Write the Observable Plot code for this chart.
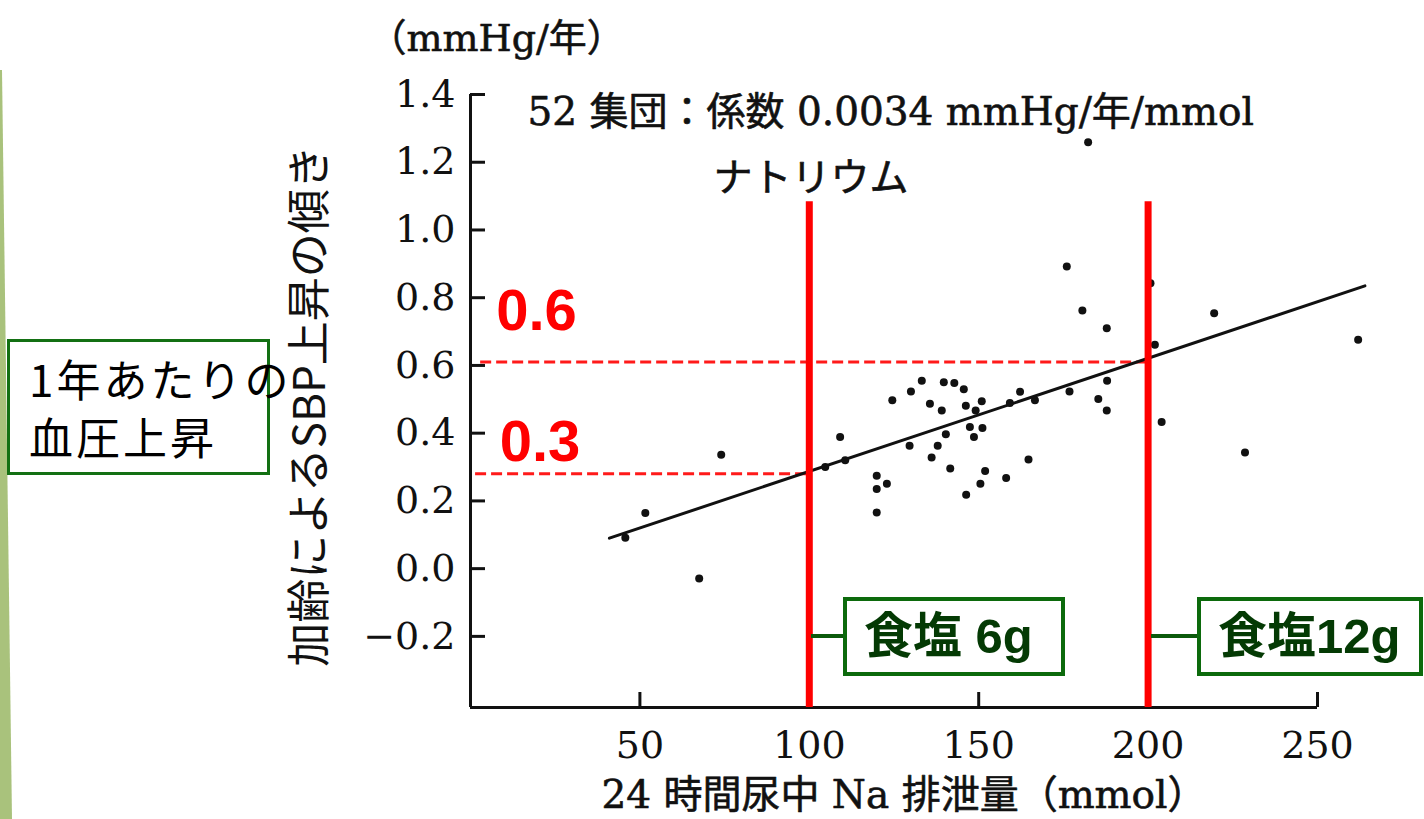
<!DOCTYPE html>
<html><head><meta charset="utf-8">
<script src="https://cdn.jsdelivr.net/npm/d3@7"></script>
<script src="https://cdn.jsdelivr.net/npm/@observablehq/plot@0.6"></script>
<style>
html,body{margin:0;padding:0;background:#fff;}
#wrap{position:relative;width:1424px;height:819px;overflow:hidden;background:#fff;}
#chart{position:absolute;left:0;top:0;}
.bar{position:absolute;left:0;top:0;width:14px;height:819px;background:#a9c27c;clip-path:polygon(0 70px,2px 70px,12px 819px,0 819px);}
.box{position:absolute;box-sizing:border-box;background:#fff;white-space:nowrap;}
.salt{border:4px solid #0c6a0c;color:#043a04;font-family:"Liberation Sans","Noto Sans CJK JP",sans-serif;font-weight:bold;font-size:49px;line-height:71px;padding-left:17px;}
.conn{position:absolute;height:4px;background:#0c5a0c;}
.note{border:3px solid #137013;color:#000;font-family:"Noto Sans CJK JP",sans-serif;font-size:44px;line-height:58px;padding:7px 0 0 19px;letter-spacing:3px;background:transparent;}
</style></head>
<body>
<div id="wrap">
  <div class="bar"></div>
  <div id="chart"></div>
  <div class="conn" style="left:811px;top:634px;width:34px;"></div>
  <div class="conn" style="left:1151px;top:634px;width:48px;"></div>
  <div class="box salt" style="left:843px;top:597px;width:222px;height:79px;">食塩 6g</div>
  <div class="box salt" style="left:1197px;top:597px;width:226px;height:79px;">食塩12g</div>
  <div class="box note" style="left:7px;top:339px;width:263px;height:136px;">1年あたりの<br>血圧上昇</div>
</div>
<script>
// ---- data ----
const naExcretion = [45.7, 51.6, 67.5, 74.0, 104.7, 109.1, 110.6, 119.9, 119.9, 122.9, 119.9, 124.5, 129.6, 130.0, 133.2, 135.6, 136.1, 137.9, 139.1, 139.7, 140.3, 141.6, 142.8, 145.6, 146.2, 146.3, 147.4, 148.6, 149.1, 150.9, 151.1, 150.5, 151.9, 158.1, 159.2, 162.2, 164.7, 166.6, 176.8, 185.3, 187.9, 187.8, 204.0, 228.6, 176.0, 180.6, 187.8, 200.7, 202.0, 219.5, 182.3, 262.0];
const sbpSlope = [0.091, 0.164, -0.029, 0.336, 0.300, 0.389, 0.320, 0.274, 0.235, 0.251, 0.166, 0.497, 0.363, 0.523, 0.555, 0.487, 0.328, 0.363, 0.467, 0.550, 0.397, 0.296, 0.548, 0.530, 0.481, 0.218, 0.418, 0.389, 0.467, 0.494, 0.415, 0.251, 0.288, 0.268, 0.489, 0.522, 0.322, 0.497, 0.523, 0.501, 0.555, 0.467, 0.433, 0.343, 0.892, 0.762, 0.710, 0.843, 0.661, 0.754, 1.259, 0.676];
const fitX = [41, 264];
const fitY = [0.09, 0.835];
const saltLines = [100, 200];
const saltLineTop = 1.083;
const readLevels = [0.28, 0.61];
const readStartX = [1.5, 3];
const readLabels = ["0.3", "0.6"];
const readLabelX = [8.6, 7.6];
const readLabelY = [0.372, 0.758];
const xTicks = [50, 100, 150, 200, 250];
const yTicks = [-0.2, 0, 0.2, 0.4, 0.6, 0.8, 1.0, 1.2, 1.4];
const xDomain = [0, 250];
const yDomain = [-0.41, 1.4];
const xTitle = "24 時間尿中 Na 排泄量（mmol）";
const yTitle = "加齢によるSBP上昇の傾き";
const unitLabel = "（mmHg/年）";
const noteLines = ["52 集団：係数 0.0034 mmHg/年/mmol", "ナトリウム"];

const points = naExcretion.map((x, i) => ({x, y: sbpSlope[i]}));
const fit = fitX.map((x, i) => ({x, y: fitY[i]}));
const reads = readLevels.map((y, i) => ({y, x1: readStartX[i], x2: saltLines[i], label: readLabels[i], lx: readLabelX[i], ly: readLabelY[i]}));

const serif = '"DejaVu Serif","Noto Sans CJK JP",serif';
const sans = '"Noto Sans CJK JP",sans-serif';
const ink = "#111";
const thick = {stroke: ink, strokeWidth: 0.6};

const chart = Plot.plot({
  width: 1424, height: 819,
  marginLeft: 470, marginRight: 107, marginTop: 94, marginBottom: 112,
  x: {domain: xDomain},
  y: {domain: yDomain},
  style: {background: "transparent", fontFamily: serif, color: ink, overflow: "visible"},
  marks: [
    Plot.ruleY(reads, {y: "y", x1: "x1", x2: "x2", stroke: "#ff1a1a", strokeWidth: 3, strokeDasharray: "11,5"}),
    Plot.line(fit, {x: "x", y: "y", stroke: ink, strokeWidth: 3}),
    Plot.dot(points, {x: "x", y: "y", r: 4, fill: ink, stroke: "none"}),
    Plot.ruleX([xDomain[0]], {stroke: ink, strokeWidth: 3}),
    Plot.ruleY([yDomain[0]], {stroke: ink, strokeWidth: 3}),
    Plot.axisY(yTicks, {tickSize: 15, dx: 15, fill: "none", stroke: ink, strokeWidth: 3, label: null}),
    Plot.axisX(xTicks, {tickSize: 15, dy: -15, fill: "none", stroke: ink, strokeWidth: 3, label: null}),
    Plot.axisY(yTicks, {tickSize: 0, tickPadding: 15, tickFormat: d3.format(".1f"), fontSize: 38, fill: ink, ...thick, label: null}),
    Plot.axisX(xTicks, {tickSize: 0, tickPadding: 24, tickFormat: d3.format("d"), fontSize: 38, fill: ink, ...thick, label: null}),
    Plot.ruleX(saltLines, {y1: yDomain[0], y2: saltLineTop, stroke: "#ff0000", strokeWidth: 7}),
    Plot.text(reads, {x: "lx", y: "ly", text: "label", textAnchor: "start", fill: "#ff0000", fontSize: 58, fontWeight: "bold", fontFamily: '"Liberation Sans",sans-serif'}),
    Plot.text([yTitle], {text: d => d, frameAnchor: "left", textAnchor: "middle", lineAnchor: "middle", dx: -160, dy: 5, rotate: -90, fontSize: 44, fontFamily: sans, fill: ink}),
    Plot.text([unitLabel], {text: d => d, frameAnchor: "top-left", textAnchor: "start", lineAnchor: "middle", dx: -102, dy: -56, fontSize: 38, fill: ink, ...thick}),
    Plot.text([noteLines[0]], {text: d => d, frameAnchor: "top-left", textAnchor: "start", lineAnchor: "middle", dx: 57, dy: 18, fontSize: 39, fill: ink, ...thick}),
    Plot.text([noteLines[1]], {text: d => d, frameAnchor: "top-left", textAnchor: "start", lineAnchor: "middle", dx: 243, dy: 84, fontSize: 39, fill: ink, ...thick}),
    Plot.text([xTitle], {text: d => d, frameAnchor: "bottom", textAnchor: "middle", lineAnchor: "middle", dx: 10, dy: 88, fontSize: 39, fill: ink, ...thick})
  ]
});
document.getElementById("chart").appendChild(chart);
</script>
</body></html>
